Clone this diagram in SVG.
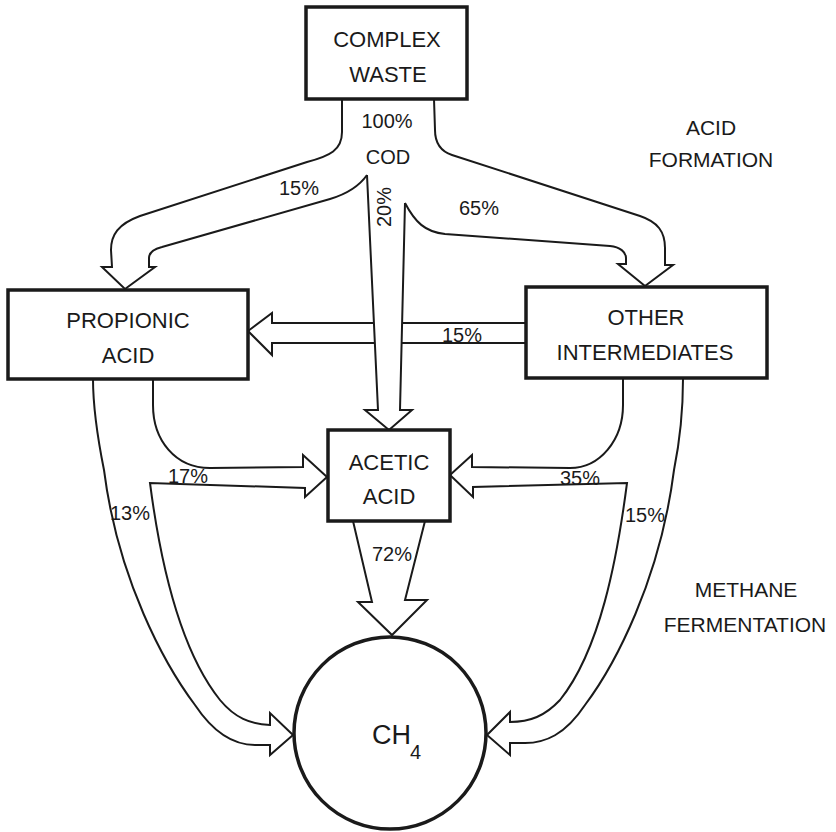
<svg xmlns="http://www.w3.org/2000/svg" width="836" height="832" viewBox="0 0 836 832">
<style>
.box{fill:#fff;stroke:#1a1a1a;stroke-width:3.5}
.flow{fill:none;stroke:#1a1a1a;stroke-width:2;stroke-linejoin:miter}
text{font-family:"Liberation Sans",Arial,sans-serif;fill:#1a1a1a}
.lbl{font-size:22px;text-anchor:middle}
.pct{font-size:20px;text-anchor:middle}
.side{font-size:21px;text-anchor:middle}
</style>
<rect width="836" height="832" fill="#fff"/>
<g id="connectors">
<path class="flow" d="M342,99 L342,132 C342,150 330,156 307,162 L140,216 C118,224 111,235 111,250 L112,267 L102,267 L125,289 L155,267 L149,267 L149,258 C149,252 154,249 162,247 L330,199 C350,193 360,185 367,175"/>
<path class="flow" d="M367,175 L378,410 L365,410 L389,430 L412,410 L400,410 L405,203"/>
<path class="flow" d="M405,203 C415,222 425,232 445,234 L610,246 C620,247 626,252 626,258 L626,264 L618,264 L645,286 L673,265 L665,265 L665,248 C665,232 658,222 640,216 L452,155 C440,151 435,143 435,130 L434,99"/>
<path class="flow" d="M527,323 L402,323 M527,343 L402,343 M374,323 L272,323 L272,313 L248,331 L272,355 L272,343 L375,343"/>
<path class="flow" d="M153,379 L153,405 C153,440 175,468 210,468 L303,467 L303,455 L327,477 L305,497 L305,488 L150,483 C160,560 180,650 220,700 C235,718 250,724 270,725 L270,713 L293,735 L270,755 L270,745 L255,745 C235,745 215,735 195,705 C165,665 118,580 104,470 C98,440 93,410 93,379"/>
<path class="flow" d="M623,379 L623,405 C623,440 600,468 570,468 L472,467 L472,455 L450,475 L473,497 L473,487 L627,483 C617,560 600,650 560,700 C545,716 530,722 510,722 L510,712 L487,735 L510,755 L510,743 L525,743 C545,743 565,735 585,705 C615,665 660,580 674,470 C680,440 683,410 683,379"/>
<path class="flow" d="M353,521 L372,602 L358,602 L392,635 L427,600 L405,600 L425,521"/>
<text class="pct" x="387" y="128">100%</text>
<text class="pct" x="388" y="164">COD</text>
<text class="pct" x="299" y="195">15%</text>
<text class="pct" x="479" y="215">65%</text>
<text class="pct" transform="translate(391,207) rotate(-90)">20%</text>
<text class="pct" x="462" y="342">15%</text>
<text class="pct" x="188" y="483">17%</text>
<text class="pct" x="130" y="520">13%</text>
<text class="pct" x="580" y="485">35%</text>
<text class="pct" x="645" y="522">15%</text>
<text class="pct" x="392" y="561">72%</text>
</g>
<g id="complex-waste">
<rect class="box" x="306" y="7" width="161" height="92"/>
<text class="lbl" x="387" y="47">COMPLEX</text>
<text class="lbl" x="388" y="82">WASTE</text>
</g>
<g id="propionic-acid">
<rect class="box" x="8" y="290" width="240" height="89"/>
<text class="lbl" x="128" y="328">PROPIONIC</text>
<text class="lbl" x="128" y="363">ACID</text>
</g>
<g id="other-intermediates">
<rect class="box" x="526" y="287" width="241" height="91"/>
<text class="lbl" x="646" y="325">OTHER</text>
<text class="lbl" x="645" y="360">INTERMEDIATES</text>
</g>
<g id="acetic-acid">
<rect class="box" x="328" y="430" width="122" height="91"/>
<text class="lbl" x="389" y="470">ACETIC</text>
<text class="lbl" x="389" y="504">ACID</text>
</g>
<g id="ch4">
<circle cx="390" cy="733" r="96" fill="#fff" stroke="#1a1a1a" stroke-width="3.5"/>
<text x="372" y="744" font-size="27">CH</text>
<text x="410" y="759" font-size="20">4</text>
</g>
<g id="acid-formation">
<text class="side" x="711" y="135">ACID</text>
<text class="side" x="711" y="167">FORMATION</text>
</g>
<g id="methane-fermentation">
<text class="side" x="746" y="597">METHANE</text>
<text class="side" x="745" y="632">FERMENTATION</text>
</g>
</svg>
